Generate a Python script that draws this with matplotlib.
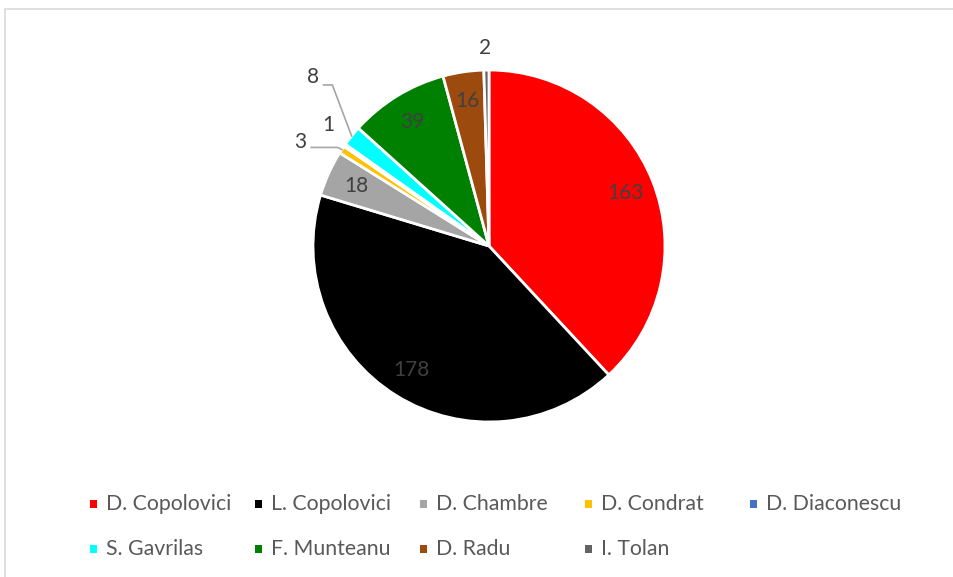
import numpy as np
import matplotlib.pyplot as plt
from matplotlib.patches import Rectangle

plt.rcParams['font.family'] = ['Lato', 'DejaVu Sans']

# Data
names = ['D. Copolovici', 'L. Copolovici', 'D. Chambre', 'D. Condrat', 'D. Diaconescu',
         'S. Gavrilas', 'F. Munteanu', 'D. Radu', 'I. Tolan']
values = [163, 178, 18, 3, 1, 8, 39, 16, 2]
colors = ['#FF0000', '#000000', '#A5A5A5', '#FFC000', '#4472C4',
          '#00FFFF', '#008000', '#9C4A0E', '#636363']

# labels placed outside the pie (index -> text position, elbow for leader line or None)
outside = {
    3: ((-1.07, 0.59), (-0.86, 0.56)),
    4: ((-0.915, 0.69), None),
    5: ((-1.00, 0.96), (-0.89, 0.915)),
    8: ((-0.02, 1.125), None),
}
label_color = '#404040'

W, H = 954, 577
fig = plt.figure(figsize=(W / 100, H / 100), dpi=100)

# chart border (only top and left visible)
fig.add_artist(Rectangle((5 / W, -0.1), 1.2, (H - 9) / H + 0.1, transform=fig.transFigure,
                         fill=False, edgecolor='#D9D9D9', linewidth=1.2))

# pie axes: centre at (489, 246) px, radius 176 px
R = 176
cx, cy = 489, H - 246
half = 1.25 * R
ax = fig.add_axes([(cx - half) / W, (cy - half) / H, 2 * half / W, 2 * half / H])

wedges, _ = ax.pie(values, colors=colors, startangle=90, counterclock=False,
                   wedgeprops=dict(edgecolor='white', linewidth=2))

for i, w in enumerate(wedges):
    ang = np.deg2rad((w.theta1 + w.theta2) / 2)
    if i in outside:
        (tx, ty), elbow = outside[i]
        ax.text(tx, ty, str(values[i]), ha='center', va='center',
                fontsize=15, color=label_color)
        if elbow is not None:
            ex, ey = np.cos(ang) * 1.0, np.sin(ang) * 1.0
            x0 = tx + 0.06
            ax.plot([x0, elbow[0], ex], [elbow[1], elbow[1], ey],
                    color='#A5A5A5', linewidth=1.2, clip_on=False)
    else:
        d = 0.83
        ax.text(np.cos(ang) * d, np.sin(ang) * d, str(values[i]), ha='center',
                va='center', fontsize=15, color=label_color)

# legend laid out as a 5-column grid
x0, dx = 90, 165
rows_y = [504, 549]
for i, (n, c) in enumerate(zip(names, colors)):
    col, row = i % 5, i // 5
    x = x0 + col * dx
    y = rows_y[row]
    fig.add_artist(Rectangle((x / W, (H - y - 4) / H), 7 / W, 8 / H,
                             transform=fig.transFigure, facecolor=c, edgecolor='none'))
    fig.text((x + 16) / W, (H - y) / H, n, ha='left', va='center',
             fontsize=15.3, color='#595959')

fig.savefig('out.png', dpi=100)
